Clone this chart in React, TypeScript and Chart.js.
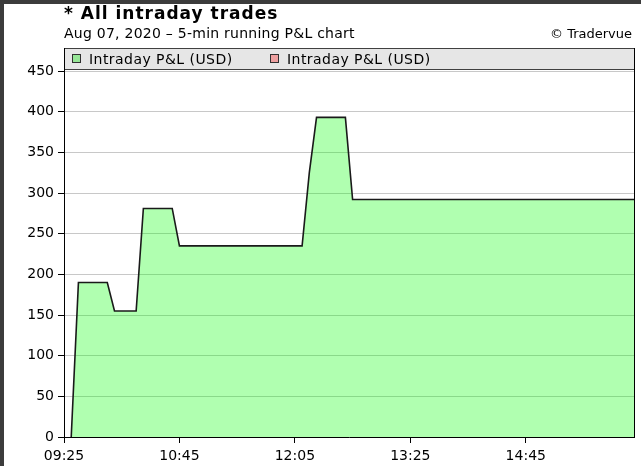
import React, { useEffect, useRef } from "react";
import { Chart, registerables } from "chart.js";

Chart.register(...registerables);

// ---- data ----
const titleText = "* All intraday trades";
const subtitleText = "Aug 07, 2020 \u2013 5-min running P&L chart";
const creditText = "\u00A9 Tradervue";
const seriesLabels = ["Intraday P&L (USD)", "Intraday P&L (USD)"];
const xMinLabel = "09:25";
const xMaxLabel = "16:00";
const xTickLabels = ["09:25", "10:45", "12:05", "13:25", "14:45"];
const yTickValues = [0, 50, 100, 150, 200, 250, 300, 350, 400, 450];
const pnlTimes = ["09:30", "09:35", "09:55", "10:00", "10:15", "10:20", "10:40", "10:45", "12:10", "12:15", "12:20", "12:40", "12:45", "16:00"];
const pnlValues = [0, 190, 190, 155, 155, 281, 281, 235, 235, 325, 393, 393, 292, 292];
const negTimes: string[] = [];
const negValues: number[] = [];

const toMin = (s: string) => {
  const [h, m] = s.split(":").map(Number);
  return h * 60 + m;
};
const fmt = (v: number) => {
  const h = Math.floor(v / 60);
  const m = Math.round(v - h * 60);
  return String(h).padStart(2, "0") + ":" + String(m).padStart(2, "0");
};

const FONT = "'DejaVu Sans', sans-serif";
const legendSwatch = ["#96e696", "#eea0a0"];

const framePlugin = {
  id: "framePlugin",
  beforeDraw(chart: any) {
    const { ctx, width, height } = chart;
    ctx.save();
    ctx.fillStyle = "#ffffff";
    ctx.fillRect(0, 0, width, height);
    ctx.fillStyle = "#3c3c3c";
    ctx.fillRect(0, 0, width, 4);
    ctx.fillRect(0, 0, 4, height);
    ctx.restore();
  },
  afterDraw(chart: any) {
    const { ctx, chartArea } = chart;
    const left = chartArea.left;
    const right = chartArea.right;
    const bottom = chartArea.bottom;
    const boxTop = 48;
    const boxBottom = 69;
    ctx.save();
    // legend box
    ctx.fillStyle = "#e6e6e6";
    ctx.fillRect(left, boxTop, right - left, boxBottom - boxTop);
    ctx.strokeStyle = "#404040";
    ctx.lineWidth = 1;
    ctx.strokeRect(left + 0.5, boxTop + 0.5, right - left, boxBottom - boxTop);
    // frame verticals
    ctx.beginPath();
    ctx.moveTo(left + 0.5, boxTop);
    ctx.lineTo(left + 0.5, bottom + 1);
    ctx.moveTo(right + 0.5, boxTop);
    ctx.lineTo(right + 0.5, bottom + 1);
    ctx.strokeStyle = "#000";
    ctx.stroke();
    // legend items
    ctx.font = "14px " + FONT;
    ctx.textBaseline = "alphabetic";
    (ctx as any).letterSpacing = "0.45px";
    const itemX = [left + 8, left + 206];
    chart.data.datasets.forEach((ds: any, i: number) => {
      const x = itemX[i];
      ctx.fillStyle = legendSwatch[i];
      ctx.fillRect(x, 54, 9, 9);
      ctx.strokeStyle = "#303030";
      ctx.strokeRect(x + 0.5, 54.5, 8, 8);
      ctx.fillStyle = "#000";
      ctx.textAlign = "left";
      ctx.fillText(ds.label, x + 17, 64);
    });
    // header
    ctx.fillStyle = "#000";
    ctx.textAlign = "left";
    ctx.font = "bold 17px " + FONT;
    (ctx as any).letterSpacing = "1px";
    ctx.fillText(titleText, left, 19);
    ctx.font = "14px " + FONT;
    (ctx as any).letterSpacing = "0.25px";
    ctx.fillText(subtitleText, left, 38);
    ctx.font = "13px " + FONT;
    (ctx as any).letterSpacing = "0px";
    ctx.textAlign = "right";
    ctx.fillText(creditText, 632, 38);
    ctx.restore();
  },
};

export default function App() {
  const ref = useRef<HTMLCanvasElement | null>(null);
  useEffect(() => {
    if (!ref.current) return;
    const chart = new Chart(ref.current, {
      type: "line",
      data: {
        datasets: [
          {
            label: seriesLabels[0],
            data: pnlTimes.map((t, i) => ({ x: toMin(t), y: pnlValues[i] })),
            fill: "origin",
            backgroundColor: "rgba(0,255,0,0.31)",
            borderColor: "#1a1a1a",
            borderWidth: 1.6,
            pointRadius: 0,
            tension: 0,
          },
          {
            label: seriesLabels[1],
            data: negTimes.map((t, i) => ({ x: toMin(t), y: negValues[i] })),
            fill: "origin",
            backgroundColor: "rgba(255,0,0,0.31)",
            borderColor: "#1a1a1a",
            borderWidth: 1.6,
            pointRadius: 0,
          },
        ],
      },
      options: {
        animation: false,
        responsive: false,
        devicePixelRatio: 1,
        layout: { padding: { top: 71, right: 7, left: 0, bottom: 0 } },
        plugins: { legend: { display: false }, tooltip: { enabled: false }, title: { display: false } },
        font: { family: FONT, size: 14 },
        scales: {
          x: {
            type: "linear",
            min: toMin(xMinLabel),
            max: toMin(xMaxLabel),
            afterBuildTicks: (axis: any) => {
              axis.ticks = xTickLabels.map((l) => ({ value: toMin(l) }));
            },
            afterFit: (axis: any) => {
              axis.height = 29;
            },
            ticks: {
              autoSkip: false,
              maxRotation: 0,
              padding: 5,
              color: "#000",
              font: { family: FONT, size: 14 },
              callback: (v: any) => fmt(Number(v)),
            },
            grid: { drawOnChartArea: false, drawTicks: true, tickLength: 6, tickColor: "#000" },
            border: { display: true, color: "#000", width: 1 },
          },
          y: {
            min: 0,
            max: 450,
            afterBuildTicks: (axis: any) => {
              axis.ticks = yTickValues.map((v) => ({ value: v }));
            },
            afterFit: (axis: any) => {
              axis.width = 64;
            },
            ticks: {
              padding: 4,
              color: "#000",
              font: { family: FONT, size: 14 },
            },
            grid: { color: "#c8c8c8", lineWidth: 1, tickLength: 6, tickColor: "#000", drawTicks: true },
            border: { display: false },
          },
        },
      },
      plugins: [framePlugin],
    } as any);
    return () => chart.destroy();
  }, []);
  return (
    <div style={{ position: "fixed", left: 0, top: 0, width: 641, height: 466, background: "#fff" }}>
      <canvas ref={ref} width={641} height={466} style={{ display: "block", width: 641, height: 466 }} />
    </div>
  );
}
